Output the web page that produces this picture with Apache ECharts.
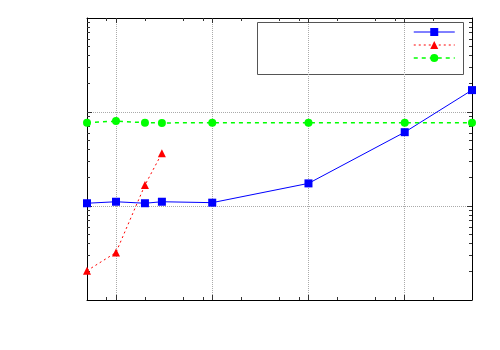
<!DOCTYPE html>
<html><head><meta charset="utf-8">
<script src="https://cdn.jsdelivr.net/npm/echarts@6/dist/echarts.min.js"></script>
<style>html,body{margin:0;padding:0;background:#fff}#c{width:500px;height:350px}</style>
</head><body><div id="c"></div>
<script>
// Data (x: log scale, y: log scale)
const blueX = [0.5, 1, 2, 3, 10, 100, 1000, 5000];
const blueY = [10.7, 11.1, 10.7, 11.1, 10.85, 17.4, 61, 171];
const redX = [0.5, 1, 2, 3];
const redY = [2.05, 3.2, 16.7, 36.4];
const greenX = [0.5, 1, 2, 3, 10, 100, 1000, 5000];
const greenY = [77, 80, 77, 76.5, 77, 77, 77, 77];
const seriesNames = ['Series 1', 'Series 2', 'Series 3'];
// Tick values
const xMajor = [1, 10, 100, 1000];
const xMinor = [0.8, 2, 5, 8, 20, 50, 80, 200, 500, 800, 2000];
const yMajor = [10, 100];
const yMinor = [2,3,4,5,6,7,8,9,20,30,40,50,60,70,80,90,200,300,400,500,600,700,800,900];

const pair = (xs, ys) => xs.map((x, i) => [x, ys[i]]);

function xAx(pos, ticks, len, line, split) {
  return {type:'log', logBase:10, min:0.5, max:5000, position:pos,
    axisLine:{show:line, onZero:false, lineStyle:{color:'#000', width:1}},
    axisTick:{show:true, inside:true, length:len, customValues:ticks, lineStyle:{color:'#333'}},
    axisLabel:{show:false}, minorTick:{show:false},
    splitLine:{show:split, lineStyle:{color:'#aaa', type:'dotted', width:1}}};
}
function yAx(pos, ticks, len, line, split) {
  return {type:'log', logBase:10, min:1, max:1000, position:pos,
    axisLine:{show:line, onZero:false, lineStyle:{color:'#000', width:1}},
    axisTick:{show:true, inside:true, length:len, customValues:ticks, lineStyle:{color:'#333'}},
    axisLabel:{show:false}, minorTick:{show:false},
    splitLine:{show:split, lineStyle:{color:'#aaa', type:'dotted', width:1}}};
}

const chart = echarts.init(document.getElementById('c'), null, {renderer:'canvas'});
chart.setOption({
  animation:false,
  backgroundColor:'#fff',
  grid:{left:87, top:18, right:28, bottom:50, containLabel:false, outerBoundsMode:'none'},
  xAxis:[
    xAx('bottom', xMajor, 5, true, true),
    xAx('bottom', xMinor, 3, false, false),
    xAx('top', xMajor, 5, true, false),
    xAx('top', xMinor, 3, false, false)
  ],
  yAxis:[
    yAx('left', yMajor, 5, true, true),
    yAx('left', yMinor, 3, false, false),
    yAx('right', yMajor, 5, true, false),
    yAx('right', yMinor, 3, false, false)
  ],
  legend:{
    orient:'vertical', left:413, top:28, padding:0,
    itemWidth:41, itemHeight:10, itemGap:5,
    formatter:()=>'', textStyle:{fontSize:8, lineHeight:10},
    data:[
      {name:seriesNames[0], lineStyle:{width:1, type:'solid'}},
      {name:seriesNames[1], lineStyle:{width:1, type:[2,3]}},
      {name:seriesNames[2], lineStyle:{width:1.5, type:[4,4]}}
    ]
  },
  graphic:[{type:'rect', shape:{x:257.5, y:22.5, width:206, height:52},
    style:{fill:'none', stroke:'#555', lineWidth:1}, z:0}],
  series:[
    {name:seriesNames[0], type:'line', data:pair(blueX, blueY), symbol:'rect', symbolSize:8,
     itemStyle:{color:'#0000ff'}, lineStyle:{color:'#0000ff', width:1, type:'solid'}},
    {name:seriesNames[1], type:'line', data:pair(redX, redY), symbol:'triangle', symbolSize:8,
     itemStyle:{color:'#ff0000'}, lineStyle:{color:'#ff0000', width:1, type:[2,3]}},
    {name:seriesNames[2], type:'line', data:pair(greenX, greenY), symbol:'circle', symbolSize:8,
     itemStyle:{color:'#00ff00'}, lineStyle:{color:'#00ff00', width:1.5, type:[4,4]}}
  ]
});
</script></body></html>
